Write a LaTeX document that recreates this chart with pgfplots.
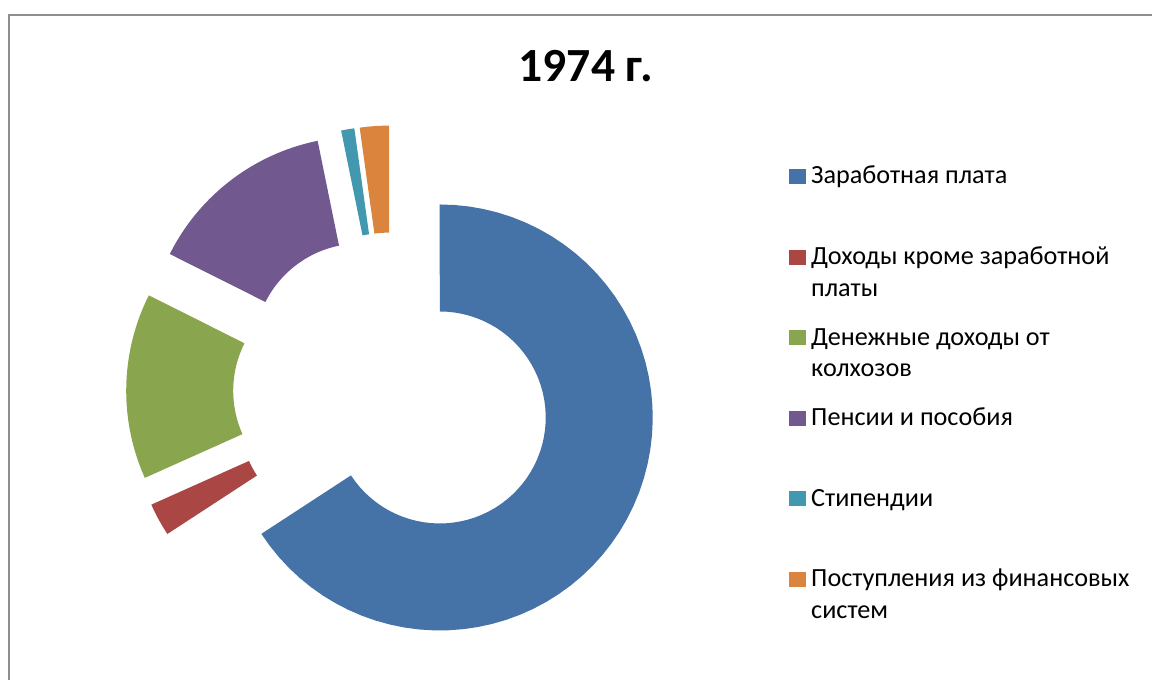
\documentclass[border=0pt]{standalone}
\usepackage{pgfplots}
\usepackage{pgfplotstable}
\pgfplotsset{compat=1.18}
\usepackage{fontspec}
\setmainfont{Carlito}
\definecolor{cA}{HTML}{4572A7}
\definecolor{cB}{HTML}{AA4643}
\definecolor{cC}{HTML}{89A54E}
\definecolor{cD}{HTML}{71588F}
\definecolor{cE}{HTML}{4198AF}
\definecolor{cF}{HTML}{DB843D}
\definecolor{frame}{HTML}{8E8E8E}
\newcommand\legendfont{\fontsize{13.1pt}{15.75pt}\selectfont}
\newcommand\titlefont{\fontsize{23.8pt}{28pt}\selectfont\bfseries}
% shares of income, per cent
\pgfplotstableread{
share
65.8
2.5
14.1
14.4
1.0
2.2
}\shares
\def\cum{0}
\newcommand\slice[3]{%
  \pgfplotstablegetelem{#1}{share}\of\shares
  \pgfmathsetmacro\sA{90-3.6*\cum}%
  \pgfmathsetmacro\cum{\cum+\pgfplotsretval}%
  \pgfmathsetmacro\eA{90-3.6*\cum}%
  \pgfmathsetmacro\mA{(\sA+\eA)/2}%
  \pgfmathsetmacro\ox{392.7+53.5*cos(\mA)}%
  \pgfmathsetmacro\oy{288+53.5*sin(\mA)}%
  \edef\next{\noexpand\addplot[fill=#2, draw=none, domain=0:2, samples=121, variable=\noexpand\t]
    ({\ox+((\noexpand\t<1.00001)?(213*cos(\sA+(\eA-\sA)*min(\noexpand\t,1))):(106*cos(\eA+(\sA-\eA)*max(0,min(1,(\noexpand\t-1-1/60)/(1-1/60))))))},
     {\oy+((\noexpand\t<1.00001)?(213*sin(\sA+(\eA-\sA)*min(\noexpand\t,1))):(106*sin(\eA+(\sA-\eA)*max(0,min(1,(\noexpand\t-1-1/60)/(1-1/60))))))});}%
  \next
  \addlegendentry{#3}%
}
\begin{document}
\begin{tikzpicture}
\begin{axis}[
  at={(0,0)}, anchor=origin,
  x=0.5pt, y=0.5pt,
  xmin=0, xmax=1152, ymin=0, ymax=680,
  hide axis, clip=false,
  legend image code/.code={\fill[#1] (0pt,0pt) rectangle (8.5pt,7.5pt);},
  legend style={at={(axis description cs:0.68490,0.75294)}, anchor=north west,
    draw=none, fill=none, inner sep=0pt, outer sep=0pt,
    row sep=0pt, column sep=2.6pt, font=\legendfont,
    nodes={inner sep=0pt, text height=8pt, text depth=32.3pt},
    cells={anchor=base west}},
]
\slice{0}{cA}{Заработная плата}
\slice{1}{cB}{\vtop{\hbox{Доходы кроме заработной}\hbox{платы}}}
\slice{2}{cC}{\vtop{\hbox{Денежные доходы от}\hbox{колхозов}}}
\slice{3}{cD}{Пенсии и пособия}
\slice{4}{cE}{Стипендии}
\slice{5}{cF}{\vtop{\hbox{Поступления из финансовых}\hbox{систем}}}
\addplot[frame, line width=1pt, forget plot] coordinates {(9,0) (9,665) (1152,665)};
\node[anchor=base, font=\titlefont] at (axis cs:586,598) {1974 г.};
\end{axis}
\pgfresetboundingbox
\path[use as bounding box] (0,0) rectangle (576pt,340pt);
\end{tikzpicture}
\end{document}
